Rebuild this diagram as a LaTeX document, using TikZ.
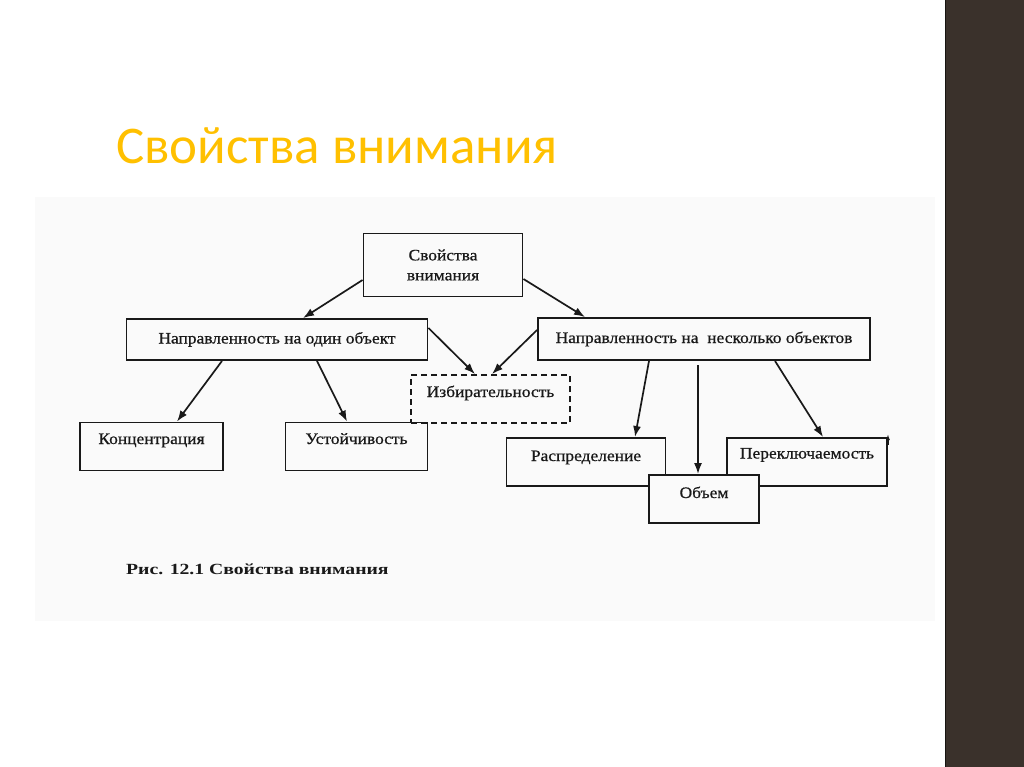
\documentclass[tikz,border=0pt]{standalone}
\usepackage{fontspec}
\usepackage{graphicx}
\setmainfont{Liberation Serif}
\newfontfamily\scanfont{Liberation Serif}[FakeBold=0.6]
\newfontfamily\titlefont{Carlito}
\usetikzlibrary{arrows.meta}
\definecolor{titleyellow}{RGB}{255,192,0}
\definecolor{barbrown}{RGB}{58,49,43}
\definecolor{scanbg}{RGB}{250,250,250}
\definecolor{ink}{RGB}{25,25,25}
\newcommand{\wx}[1]{\scalebox{1.09}[1]{#1}}
\newcommand{\wcap}[1]{\scalebox{1.27}[1]{#1}}
\begin{document}
\begin{tikzpicture}[x=1pt,y=-1pt,
  box/.style={draw=ink, line width=1.9pt, rectangle, inner sep=0pt, text=ink,
    font=\scanfont\fontsize{16}{20}\selectfont, align=center, text height=11pt, text depth=3pt},
  dbox/.style={box, dash pattern=on 6pt off 4pt},
  raise/.style={text depth=#1},
  arr/.style={draw=ink, line width=1.7pt, -{Latex[length=11pt,width=8pt]}},
]
\useasboundingbox (0,0) rectangle (1024,767);
\fill[white] (0,0) rectangle (1024,767);
\fill[scanbg] (35,197) rectangle (935,621);
\fill[barbrown] (945,0) rectangle (1024,767);
\draw[black!60!barbrown, line width=1pt] (945.5,0) -- (945.5,767);

\node[anchor=base west, inner sep=0pt, text=titleyellow, font=\titlefont\fontsize{53}{62}\selectfont] (title) at (116,164) {Свойства внимания};

\node[box, minimum width=159pt, minimum height=63pt, text height=, text depth=] (top) at (443,265) {\wx{Свойства}\\\wx{внимания}};
\node[box, minimum width=301pt, minimum height=41pt] (lm) at (277,339.5) {\wx{Направленность на один объект}};
\node[box, minimum width=332pt, minimum height=42pt] (rm) at (704,339) {\wx{Направленность на~ несколько объектов}};
\node[dbox, minimum width=159pt, minimum height=48pt, raise=15pt] (sel) at (490.5,399) {\wx{Избирательность}};
\node[box, minimum width=143pt, minimum height=48pt, raise=16pt] (konc) at (151.5,446.5) {\wx{Концентрация}};
\node[box, minimum width=142pt, minimum height=48pt, raise=16pt] (ust) at (356.5,446.5) {\wx{Устойчивость}};
\node[box, minimum width=159pt, minimum height=48pt, raise=13pt] (rasp) at (586,462) {\wx{Распределение}};
\node[box, minimum width=160pt, minimum height=48pt, raise=18pt] (pk) at (807,462) {\wx{Переключаемость}};
\node[box, fill=scanbg, minimum width=110pt, minimum height=48pt, raise=13pt] (obem) at (704,499) {\wx{Объем}};

\draw[arr] ([yshift=-15pt]top.west) -- ([xshift=26pt]lm.north);
\draw[arr] ([yshift=-14pt]top.east) -- ([xshift=-119pt]rm.north);
\draw[arr] ([yshift=11.5pt]lm.east) -- ([xshift=-15.5pt]sel.north);
\draw[arr] ([yshift=9pt]rm.west) -- ([xshift=1.5pt]sel.north);
\draw[arr] ([xshift=-55pt]lm.south) -- ([xshift=25.5pt]konc.north);
\draw[arr] ([xshift=40pt]lm.south) -- ([xshift=-9.5pt]ust.north);
\draw[arr] ([xshift=-55pt]rm.south) -- ([xshift=49pt]rasp.north);
\draw[arr] ([xshift=71pt]rm.south) -- ([xshift=16pt]pk.north);
\coordinate (v) at (698,365);
\draw[arr] (v) -- (v |- obem.north);
\draw[draw=ink, line width=1.2pt, -{Latex[length=6pt,width=4pt]}] ([yshift=-8pt]pk.north east) -- ([yshift=3pt]pk.north east);

\node[anchor=base west, inner sep=0pt, text=ink, font=\bfseries\fontsize{15.5}{18}\selectfont] (cap) at (126,574) {\wcap{Рис. 12.1 Свойства внимания}};
\end{tikzpicture}
\end{document}
